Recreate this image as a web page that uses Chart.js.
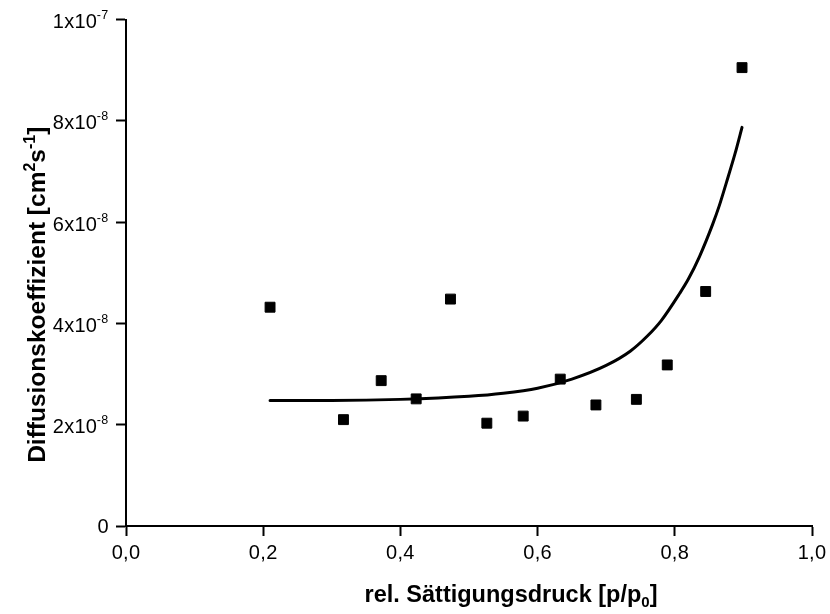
<!DOCTYPE html>
<html>
<head>
<meta charset="utf-8">
<script src="https://cdn.jsdelivr.net/npm/chart.js@4/dist/chart.umd.min.js"></script>
<style>
  html, body { margin: 0; padding: 0; background: #fff; }
  canvas { display: block; }
</style>
</head>
<body>
<canvas id="chart" width="830" height="614"></canvas>
<script>
// Measured diffusion coefficients vs. relative saturation pressure
const pressure  = [0.210, 0.317, 0.372, 0.423, 0.473, 0.526, 0.579, 0.633, 0.685, 0.744, 0.789, 0.845, 0.898];
const diffusion = [4.32e-8, 2.10e-8, 2.87e-8, 2.51e-8, 4.48e-8, 2.03e-8, 2.17e-8, 2.90e-8, 2.39e-8, 2.50e-8, 3.18e-8, 4.63e-8, 9.05e-8];

// Fitted curve through the measurements
const fitPressure  = [0.210, 0.300, 0.400, 0.500, 0.550, 0.600, 0.650, 0.700, 0.735, 0.760, 0.780, 0.807, 0.820, 0.836, 0.855, 0.865, 0.875, 0.888, 0.898];
const fitDiffusion = [2.48e-8, 2.48e-8, 2.50e-8, 2.56e-8, 2.62e-8, 2.72e-8, 2.90e-8, 3.17e-8, 3.45e-8, 3.75e-8, 4.05e-8, 4.59e-8, 4.88e-8, 5.32e-8, 5.95e-8, 6.33e-8, 6.77e-8, 7.36e-8, 7.87e-8];

// Axis ticks and their labels
const xTicks = [0, 0.2, 0.4, 0.6, 0.8, 1.0];
const xTickLabels = ['0,0', '0,2', '0,4', '0,6', '0,8', '1,0'];
const yTicks = [0, 2e-8, 4e-8, 6e-8, 8e-8, 1e-7];
const yTickMantissa = ['0', '2x10', '4x10', '6x10', '8x10', '1x10'];
const yTickExponent = ['', '-8', '-8', '-8', '-8', '-7'];

const xTitle = ['rel. Sättigungsdruck [p/p', '0', ']'];
const yTitle = ['Diffusionskoeffizient [cm', '2', 's', '-1', ']'];

const FONT = '"Liberation Sans", Arial, Helvetica, sans-serif';

// Tick labels with superscripts and axis titles with sub/superscripts
const labelPlugin = {
  id: 'axisText',
  afterDraw(chart) {
    const ctx = chart.ctx;
    const xs = chart.scales.x, ys = chart.scales.y;
    const area = chart.chartArea;
    ctx.save();
    ctx.fillStyle = '#000';
    ctx.textBaseline = 'alphabetic';

    const tickFont = '20px ' + FONT;
    const tickSpacing = '0.3px';

    // x tick labels
    ctx.font = tickFont;
    ctx.letterSpacing = tickSpacing;
    ctx.textAlign = 'center';
    xTicks.forEach((v, i) => {
      ctx.fillText(xTickLabels[i], xs.getPixelForValue(v), area.bottom + 33);
    });

    // y tick labels
    const right = area.left - 17.5;
    ctx.textAlign = 'right';
    yTicks.forEach((v, i) => {
      const py = ys.getPixelForValue(v);
      let edge = right;
      if (yTickExponent[i]) {
        ctx.font = '12.5px ' + FONT;
        ctx.letterSpacing = '0.3px';
        ctx.fillText(yTickExponent[i], edge, py - 0.5);
        edge -= ctx.measureText(yTickExponent[i]).width;
        ctx.font = tickFont;
        ctx.letterSpacing = tickSpacing;
        ctx.fillText(yTickMantissa[i], edge + 0.5, py + 8.5);
      } else {
        ctx.font = tickFont;
        ctx.letterSpacing = tickSpacing;
        ctx.fillText(yTickMantissa[i], edge + 0.5, py + 7);
      }
    });
    ctx.letterSpacing = '0px';

    // x axis title
    const big = 'bold 23.5px ' + FONT, small = 'bold 15px ' + FONT;
    ctx.textAlign = 'left';
    ctx.font = big;
    const w0 = ctx.measureText(xTitle[0]).width;
    const w2 = ctx.measureText(xTitle[2]).width;
    ctx.font = small;
    const w1 = ctx.measureText(xTitle[1]).width;
    let x = (xs.left + xs.right) / 2 + 42 - (w0 + w1 + w2) / 2;
    const by = area.bottom + 76;
    ctx.font = big; ctx.fillText(xTitle[0], x, by); x += w0;
    ctx.font = small; ctx.fillText(xTitle[1], x, by + 5); x += w1;
    ctx.font = big; ctx.fillText(xTitle[2], x, by);

    // y axis title, rotated
    const ybig = 'bold 24.5px ' + FONT, ysmall = 'bold 16px ' + FONT;
    const parts = [
      { t: yTitle[0], f: ybig, dy: 0 },
      { t: yTitle[1], f: ysmall, dy: -10 },
      { t: yTitle[2], f: ybig, dy: 0 },
      { t: yTitle[3], f: ysmall, dy: -10 },
      { t: yTitle[4], f: ybig, dy: 0 }
    ];
    let total = 0;
    parts.forEach(p => { ctx.font = p.f; p.w = ctx.measureText(p.t).width; total += p.w; });
    ctx.translate(45, (ys.top + ys.bottom) / 2 + 22);
    ctx.rotate(-Math.PI / 2);
    let tx = -total / 2;
    parts.forEach(p => { ctx.font = p.f; ctx.fillText(p.t, tx, p.dy); tx += p.w; });
    ctx.restore();
  }
};

const axisCommon = {
  type: 'linear',
  ticks: { display: false },
  grid: {
    drawOnChartArea: false,
    drawTicks: true,
    tickLength: 10,
    tickWidth: 2,
    tickColor: '#000'
  },
  border: { display: true, color: '#000', width: 2 }
};

new Chart(document.getElementById('chart'), {
  type: 'scatter',
  data: {
    datasets: [
      {
        label: 'Messwerte',
        data: pressure.map((p, i) => ({ x: p, y: diffusion[i] })),
        pointStyle: 'rect',
        pointRadius: 7,
        pointHoverRadius: 7,
        backgroundColor: '#000',
        borderColor: '#000',
        borderWidth: 1,
        showLine: false
      },
      {
        label: 'Anpassung',
        data: fitPressure.map((p, i) => ({ x: p, y: fitDiffusion[i] })),
        showLine: true,
        pointRadius: 0,
        borderColor: '#000',
        borderWidth: 3,
        borderCapStyle: 'round',
        borderJoinStyle: 'round',
        cubicInterpolationMode: 'monotone',
        fill: false
      }
    ]
  },
  options: {
    responsive: false,
    animation: false,
    devicePixelRatio: 1,
    layout: { padding: { top: 19.5, right: 18, left: 0, bottom: 0 } },
    plugins: { legend: { display: false }, tooltip: { enabled: false } },
    scales: {
      x: Object.assign({}, axisCommon, {
        min: 0, max: 1,
        ticks: { display: false, stepSize: 0.2 },
        afterFit(s) { s.height = 88; }
      }),
      y: Object.assign({}, axisCommon, {
        min: 0, max: 1e-7,
        ticks: { display: false, stepSize: 2e-8 },
        afterFit(s) { s.width = 126; }
      })
    }
  },
  plugins: [labelPlugin]
});
</script>
</body>
</html>
